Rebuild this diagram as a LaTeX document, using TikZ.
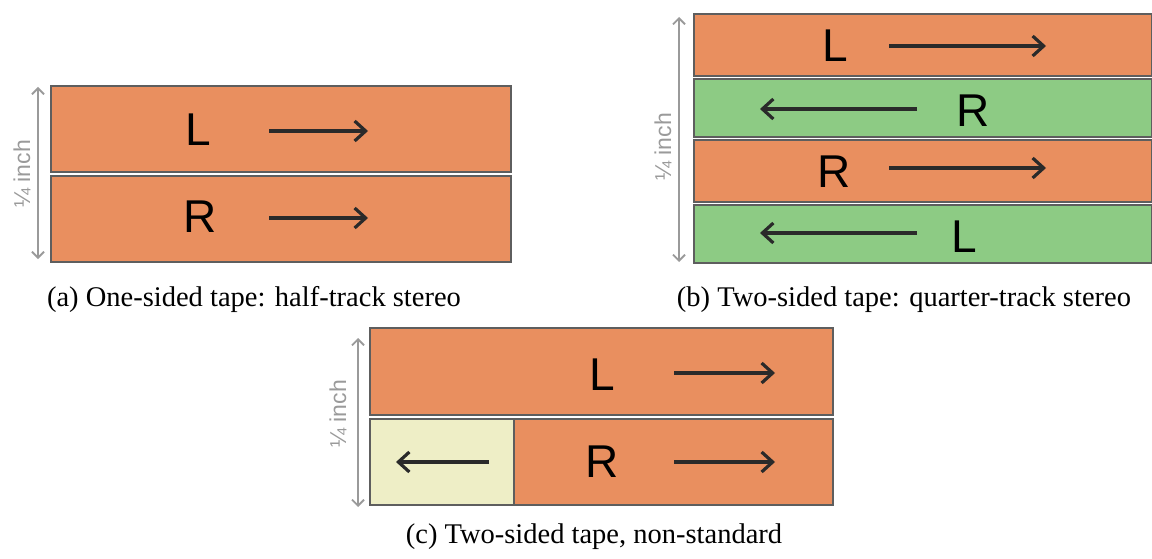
\documentclass[tikz,border=0pt]{standalone}
\usepackage{fontspec}
\setmainfont{Liberation Serif}
\newfontfamily\tapefont{Liberation Sans}
\usetikzlibrary{arrows.meta}
\definecolor{tapeorange}{HTML}{E98F5F}
\definecolor{tapegreen}{HTML}{8DCB84}
\definecolor{tapeyellow}{HTML}{EEEEC6}
\definecolor{edgegray}{HTML}{5E5E5E}
\definecolor{dimgray}{HTML}{9A9A9A}
\definecolor{arrowdark}{HTML}{2A2A2A}
\tikzset{
  tapebox/.style={draw=edgegray, line width=1.3pt, inner sep=0pt, outer sep=0pt},
  chan/.style={font=\tapefont\fontsize{46}{46}\selectfont, inner sep=0pt, text=black},
  dirarrow/.style={draw=arrowdark, line width=3.2pt, -{Straight Barb[length=11pt,width=20pt,line width=3.2pt]}},
  dimarrow/.style={draw=dimgray, line width=1.8pt, {Straight Barb[length=6pt,width=12pt]}-{Straight Barb[length=6pt,width=12pt]}},
  dimlabel/.style={font=\tapefont\fontsize{23}{23}\selectfont, text=dimgray, rotate=90, inner sep=0pt},
  caption/.style={font=\fontsize{28.5}{28.5}\selectfont, anchor=base, inner sep=0pt}
}
\begin{document}
\begin{tikzpicture}[x=1pt,y=-1pt]
\useasboundingbox (0,0) rectangle (1152,559);
% ---------- (a)
\draw[tapebox, fill=tapeorange] (51,86) rectangle (511,172);
\draw[tapebox, fill=tapeorange] (51,176) rectangle (511,262);
\draw[edgegray, line width=2pt] (170,176) -- (378,176);
\node[chan] (aL) at (198,130) {L};
\node[chan] (aR) at (200,217) {R};
\coordinate (aL1) at (269,131); \coordinate (aL2) at (368,131);
\coordinate (aR1) at (269,218); \coordinate (aR2) at (368,218);
\draw[dirarrow] (aL1) -- (aL2);
\draw[dirarrow] (aR1) -- (aR2);
\coordinate (aD1) at (38,87); \coordinate (aD2) at (38,259);
\draw[dimarrow] (aD1) -- (aD2);
\node[dimlabel] (aDim) at (22,174) {¼ inch};
\node[caption] (capa) at (254,306) {(a) One-sided tape: half-track stereo};
% ---------- (b)
\draw[tapebox, fill=tapeorange] (694,14) rectangle (1152,76);
\draw[tapebox, fill=tapegreen] (694,79) rectangle (1152,137);
\draw[tapebox, fill=tapeorange] (694,140) rectangle (1152,202);
\draw[tapebox, fill=tapegreen] (694,205) rectangle (1152,263);
\node[chan] (bL1) at (835,46) {L};
\node[chan] (bR1) at (973,111) {R};
\node[chan] (bR2) at (834,172) {R};
\node[chan] (bL2) at (964,237) {L};
\coordinate (b1s) at (889,46); \coordinate (b1e) at (1046,46);
\coordinate (b2s) at (917,109); \coordinate (b2e) at (760,109);
\coordinate (b3s) at (889,168); \coordinate (b3e) at (1046,168);
\coordinate (b4s) at (917,233); \coordinate (b4e) at (760,233);
\draw[dirarrow] (b1s) -- (b1e);
\draw[dirarrow] (b2s) -- (b2e);
\draw[dirarrow] (b3s) -- (b3e);
\draw[dirarrow] (b4s) -- (b4e);
\coordinate (bD1) at (679,17); \coordinate (bD2) at (679,262);
\draw[dimarrow] (bD1) -- (bD2);
\node[dimlabel] (bDim) at (663,147) {¼ inch};
\node[caption] (capb) at (904,306) {(b) Two-sided tape: quarter-track stereo};
% ---------- (c)
\draw[tapebox, fill=tapeorange] (370,328) rectangle (833,415);
\draw[tapebox, fill=tapeyellow] (370,419) rectangle (514,505);
\draw[tapebox, fill=tapeorange] (514,419) rectangle (833,505);
\node[chan] (cL) at (602,375) {L};
\node[chan] (cR) at (602,462) {R};
\coordinate (c1s) at (674,373); \coordinate (c1e) at (775,373);
\coordinate (c2s) at (674,462); \coordinate (c2e) at (775,462);
\coordinate (c3s) at (489,462); \coordinate (c3e) at (396,462);
\draw[dirarrow] (c1s) -- (c1e);
\draw[dirarrow] (c2s) -- (c2e);
\draw[dirarrow] (c3s) -- (c3e);
\coordinate (cD1) at (358,338); \coordinate (cD2) at (358,507);
\draw[dimarrow] (cD1) -- (cD2);
\node[dimlabel] (cDim) at (338,414) {¼ inch};
\node[caption] (capc) at (594,543) {(c) Two-sided tape, non-standard};
\end{tikzpicture}
\end{document}
